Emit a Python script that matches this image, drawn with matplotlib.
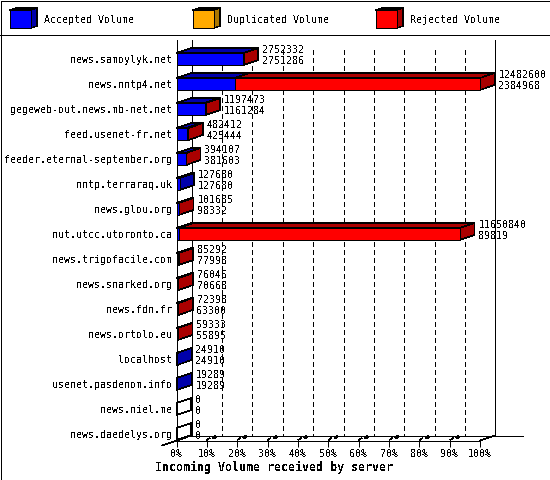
#Incoming volume per server, 3D-ish horizontal stacked bars
import matplotlib
matplotlib.use('Agg')
import matplotlib.pyplot as plt

hosts = ['news.samoylyk.net', 'news.nntp4.net', 'gegeweb-out.news.mb-net.net', 'feed.usenet-fr.net',
         'feeder.eternal-september.org', 'nntp.terraraq.uk', 'news.glou.org', 'nut.utcc.utoronto.ca',
         'news.trigofacile.com', 'news.snarked.org', 'news.fdn.fr', 'news.ortolo.eu',
         'localhost', 'usenet.pasdenom.info', 'news.niel.me', 'news.daedelys.org']
total = [2752332, 12482600, 1197473, 482412, 394107, 127680, 101685, 11650840,
         85292, 76046, 72398, 59333, 24910, 19289, 0, 0]
accepted = [2751286, 2384968, 1161284, 425444, 381603, 127680, 98332, 89819,
            77998, 70668, 63300, 55895, 24910, 19289, 0, 0]
pct_ticks = [0, 10, 20, 30, 40, 50, 60, 70, 80, 90, 100]
legend_names = ['Accepted Volume', 'Duplicated Volume', 'Rejected Volume']
xlabel = 'Incoming Volume received by server'

BLUE, DBLUE = '#0000ff', '#0000aa'
ORANGE, DORANGE = '#ffaa00', '#aa7700'
RED, DRED = '#ff0000', '#aa0000'
MONO = 'DejaVu Sans Mono'
PX = 0.72  #one pixel at dpi 100 in points
THIN = 0.42  #slanted outlines come out 2px wide at PX without antialiasing

plt.rcParams['text.antialiased'] = False
plt.rcParams['patch.antialiased'] = False
plt.rcParams['lines.antialiased'] = False
plt.rcParams['font.family'] = MONO

fig = plt.figure(figsize=(5.5, 4.8), dpi=100, facecolor='white')

#overlay in pixel coords for the frame, legend and walls
bg = fig.add_axes([0, 0, 1, 1], zorder=0)
bg.set_xlim(0, 550)
bg.set_ylim(480, 0)
bg.axis('off')

def pxline(xs, ys, lw=PX):
    bg.plot(xs, ys, color='black', lw=lw, solid_capstyle='butt')

#outer frame and legend separator
pxline([0.5, 549.5, 549.5, 0.5, 0.5], [0.5, 0.5, 479.5, 479.5, 0.5])
pxline([0, 550], [35, 35])

#legend boxes
for x0, c, d, name, tx in zip([10, 193, 376], [BLUE, ORANGE, RED], [DBLUE, DORANGE, DRED], legend_names, [44, 227, 410]):
    bg.fill([x0, x0 + 6, x0 + 27, x0 + 21], [10, 8, 8, 10], facecolor=d, edgecolor='black', lw=THIN)
    bg.fill([x0 + 21, x0 + 27, x0 + 27, x0 + 21], [10, 8, 26, 28], facecolor=d, edgecolor='black', lw=THIN)
    bg.fill([x0, x0 + 21, x0 + 21, x0], [10, 10, 28, 28], facecolor=c, edgecolor='black', lw=PX)
    bg.text(tx, 20, name, fontsize=7.2, va='center', ha='left')

#back wall, floor and side lines
pxline([191.5, 191.5], [40, 435.5])
pxline([495, 495], [40, 435.5])
pxline([191, 523], [435.5, 435.5])
pxline([480, 495], [440.5, 435.5], lw=THIN)
pxline([162, 191.5], [445.5, 435.5], lw=THIN)

#dashed grid on back wall, small slanted marks on the floor
for p in pct_ticks[1:-1]:
    xb = 191.5 + p * 3.04
    xf = 176.5 + p * 3.04
    bg.plot([xb, xb], [50, 435], color='black', lw=PX, linestyle=(0, (5, 4)), dash_capstyle='butt')
    pxline([xf, xf + 3], [440, 438], lw=THIN)
    bg.plot([xf + 6, xf + 9], [438, 436.5], color='black', lw=1.6, solid_capstyle='butt')

#main axes, 0-100% spans pixels 177..480, rows 25px apart starting at y=59
ax = fig.add_axes([176.6 / 550, 1 - 440.5 / 480, 303.5 / 550, 400.5 / 480], zorder=1)
ax.patch.set_alpha(0)
ax.set_xlim(0, 100)
ax.set_ylim((440.5 - 59) / 25, (40 - 59) / 25)
for s in ['top', 'right']:
    ax.spines[s].set_visible(False)
for s in ['left', 'bottom']:
    ax.spines[s].set_linewidth(PX)

ax.set_yticks(range(len(hosts)))
ax.set_yticklabels(hosts, fontsize=7.2)
ax.tick_params(axis='y', length=0, pad=3.4)
ax.set_xticks(pct_ticks)
ax.set_xticklabels([str(p) + '%' for p in pct_ticks], fontsize=7.2)
ax.tick_params(axis='x', length=4.3, width=PX, pad=1.5)

#depth offset of the fake 3D, in data units
dx = 14.5 * 100 / 303.5
dy = 5 / 25
half = 6 / 25
top_max = max(total)

for i in range(len(hosts)):
    acc = accepted[i] / top_max * 100
    end = total[i] / top_max * 100
    rej = total[i] - accepted[i]
    ytop = i - half
    ybot = i + half
    #top faces
    ax.fill([0, dx, acc + dx, acc], [ytop, ytop - dy, ytop - dy, ytop], facecolor=DBLUE, edgecolor='black', lw=THIN, clip_on=False)
    if rej > 0:
        ax.fill([acc, acc + dx, end + dx, end], [ytop, ytop - dy, ytop - dy, ytop], facecolor=DRED, edgecolor='black', lw=THIN, clip_on=False)
    #side face
    side = DRED if rej > 0 else DBLUE
    if total[i] == 0:
        side = 'none'
    ax.fill([end, end + dx, end + dx, end], [ytop, ytop - dy, ybot - dy, ybot], facecolor=side, edgecolor='black', lw=THIN, clip_on=False)
    #front faces
    ax.barh(i, acc, height=2 * half, color=BLUE, edgecolor='black', linewidth=PX)
    if rej > 0:
        ax.barh(i, end - acc, left=acc, height=2 * half, color=RED, edgecolor='black', linewidth=PX)
    #value labels
    lx = end + 18.5 * 100 / 303.5
    ax.text(lx, i - 9 / 25, str(total[i]), fontsize=7.2, va='center', ha='left', clip_on=False, zorder=5)
    ax.text(lx, i + 2 / 25, str(accepted[i]), fontsize=7.2, va='center', ha='left', clip_on=False, zorder=5)

bg.text(274, 467, xlabel, fontsize=8.4, fontweight='bold', ha='center', va='center')

fig.savefig('out.png', dpi=100)
